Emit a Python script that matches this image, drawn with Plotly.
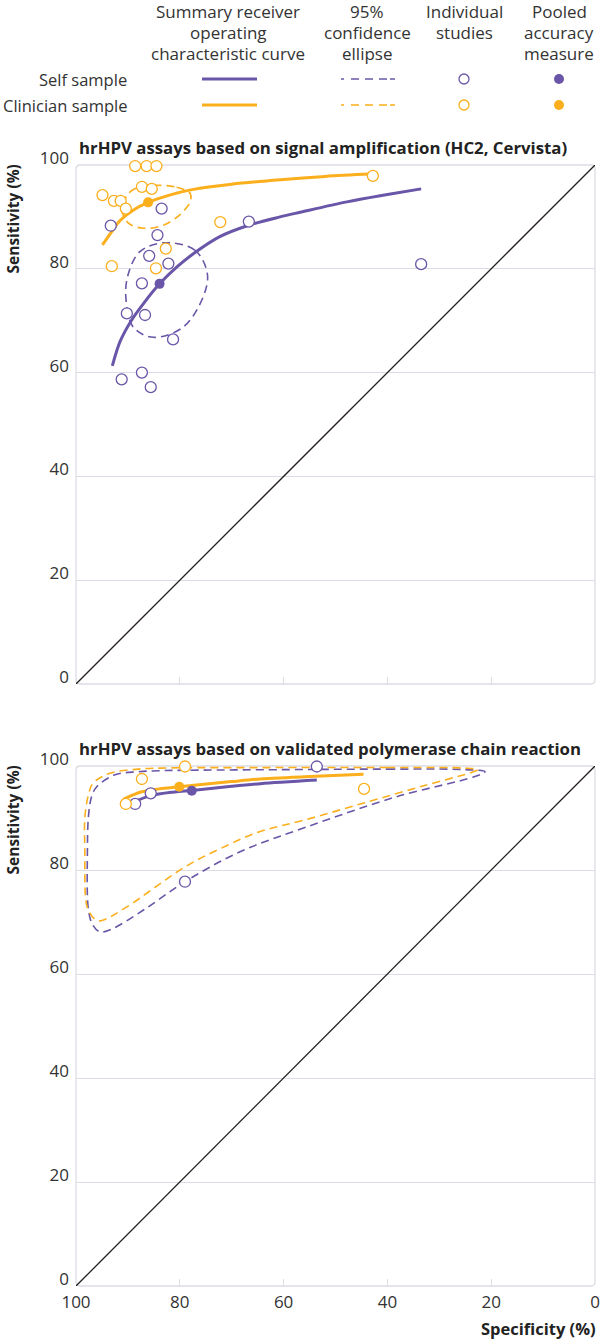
import plotly.graph_objects as go

W, H = 600, 1343
ML, MR = 76, 5
PURPLE = "#6A56A8"
ORANGE = "#FBAF1D"
GRID = "#DCDCE4"
TXT = "#333333"
FONT = "Open Sans"

# ---------- Panel A: signal amplification (HC2, Cervista) ----------
a_self_spec = [93.3, 83.5, 84.3, 85.9, 82.2, 87.3, 90.2, 86.7, 81.3, 91.2, 87.3, 85.6, 66.7, 33.5]
a_self_sens = [88.3, 91.6, 86.5, 82.5, 81.0, 77.2, 71.4, 71.1, 66.4, 58.7, 60.0, 57.2, 89.1, 80.9]
a_clin_spec = [88.6, 86.4, 84.5, 87.3, 85.4, 94.9, 92.7, 91.4, 90.4, 93.1, 82.7, 84.6, 72.2, 42.8]
a_clin_sens = [99.8, 99.8, 99.8, 95.8, 95.4, 94.2, 93.1, 93.1, 91.6, 80.5, 83.9, 80.1, 89.0, 97.9]
a_self_pool = (83.9, 77.1)
a_clin_pool = (86.1, 92.8)
a_self_sroc_spec = [93.0, 91.5, 89.3, 87.0, 83.9, 80.5, 77.4, 72.3, 66.7, 60.7, 56.8, 47.8, 40.0, 33.5]
a_self_sroc_sens = [61.3, 66.0, 70.1, 73.3, 77.1, 80.4, 82.9, 86.2, 88.4, 90.0, 90.9, 92.9, 94.3, 95.4]
a_clin_sroc_spec = [94.9, 93.0, 91.5, 89.0, 86.1, 82.0, 77.4, 70.0, 60.0, 52.0, 43.0]
a_clin_sroc_sens = [84.6, 87.3, 89.3, 91.3, 92.8, 94.2, 95.3, 96.3, 97.2, 97.8, 98.3]
a_self_ell_spec = [83.2, 77.1, 74.7, 75.5, 79.3, 85.1, 89.0, 90.4, 89.9, 87.7, 83.2]
a_self_ell_sens = [85.0, 83.6, 79.1, 74.6, 68.8, 66.8, 68.8, 74.6, 79.1, 83.3, 85.0]
a_clin_ell_spec = [84.5, 80.6, 78.0, 78.0, 80.0, 83.2, 87.0, 89.9, 91.1, 89.9, 87.7, 84.5]
a_clin_ell_sens = [96.1, 95.7, 94.5, 92.9, 90.4, 88.4, 87.8, 88.8, 91.3, 94.5, 95.8, 96.1]

# ---------- Panel B: validated PCR ----------
b_self_spec = [85.6, 88.6, 79.0, 53.6]
b_self_sens = [94.75, 92.7, 77.75, 99.9]
b_clin_spec = [79.0, 87.3, 90.4, 44.5]
b_clin_sens = [99.9, 97.5, 92.7, 95.6]
b_self_pool = (77.7, 95.25)
b_clin_pool = (80.1, 96.0)
b_self_sroc_spec = [89.3, 85.6, 81.0, 77.7, 70.0, 64.5, 53.6]
b_self_sroc_sens = [92.9, 94.3, 95.0, 95.3, 96.1, 96.6, 97.3]
b_clin_sroc_spec = [90.9, 87.5, 84.0, 80.1, 70.0, 64.5, 55.0, 44.6]
b_clin_sroc_sens = [93.6, 95.0, 95.6, 96.0, 97.0, 97.5, 98.0, 98.4]
b_self_ell_spec = [60.0, 40.0, 25.0, 21.2, 23.4, 38.2, 55.5, 68.4, 79.0, 87.0, 93.4, 95.4, 96.8, 97.6, 97.8, 97.6, 97.0, 96.0, 92.5, 88.0, 83.8, 60.0]
b_self_ell_sens = [99.3, 99.4, 99.3, 98.9, 97.9, 94.1, 88.3, 83.5, 77.75, 72.3, 68.5, 68.1, 69.5, 72.3, 83.8, 90.3, 94.1, 96.0, 98.3, 98.9, 99.1, 99.3]
b_clin_ell_spec = [60.0, 40.0, 25.0, 22.6, 23.4, 33.0, 44.5, 56.0, 64.5, 72.0, 79.0, 90.2, 94.7, 96.0, 97.5, 98.1, 98.3, 98.3, 97.6, 96.7, 93.5, 88.0, 83.8, 60.0]
b_clin_ell_sens = [99.7, 99.7, 99.6, 99.3, 98.9, 96.2, 92.9, 89.6, 87.4, 84.2, 80.6, 72.9, 70.4, 70.3, 72.0, 74.2, 83.8, 90.0, 94.5, 96.7, 98.6, 99.4, 99.6, 99.7]

diag = [0, 100]
tick_vals = [0, 20, 40, 60, 80, 100]
tick_text = ["0", "20", "40", "60", "80", "100"]

# layout geometry (pixels from top)
A_TOP, A_BOT = 165, 684
B_TOP, B_BOT = 766, 1286


def py2p(py):
    return 1 - py / H


def px2p(px):
    return (px - ML) / (W - ML - MR)


fig = go.Figure()


def add_panel(xa, ya, ell, sroc, studies, pools):
    for (sx, sy), col in zip(ell, [PURPLE, ORANGE]):
        fig.add_trace(go.Scatter(x=sx, y=sy, mode="lines", xaxis=xa, yaxis=ya,
                                 line=dict(color=col, width=1.6, dash="8px,5px", shape="spline", smoothing=1.0),
                                 hoverinfo="skip", showlegend=False))
    fig.add_trace(go.Scatter(x=[100 - d for d in diag], y=diag, mode="lines", xaxis=xa, yaxis=ya,
                             line=dict(color="#231F20", width=1.3), hoverinfo="skip", showlegend=False))
    for (sx, sy), col in zip(sroc, [PURPLE, ORANGE]):
        fig.add_trace(go.Scatter(x=sx, y=sy, mode="lines", xaxis=xa, yaxis=ya,
                                 line=dict(color=col, width=3, shape="spline", smoothing=0.9),
                                 hoverinfo="skip", showlegend=False))
    for (sx, sy), col in zip(studies, [PURPLE, ORANGE]):
        fig.add_trace(go.Scatter(x=sx, y=sy, mode="markers", xaxis=xa, yaxis=ya, cliponaxis=False,
                                 marker=dict(symbol="circle", size=11, color="white",
                                             line=dict(color=col, width=1.3)),
                                 showlegend=False))
    for (px_, py_), col in zip(pools, [PURPLE, ORANGE]):
        fig.add_trace(go.Scatter(x=[px_], y=[py_], mode="markers", xaxis=xa, yaxis=ya, cliponaxis=False,
                                 marker=dict(symbol="circle", size=10, color=col, line=dict(width=0)),
                                 showlegend=False))


add_panel("x", "y",
          [(a_self_ell_spec, a_self_ell_sens), (a_clin_ell_spec, a_clin_ell_sens)],
          [(a_self_sroc_spec, a_self_sroc_sens), (a_clin_sroc_spec, a_clin_sroc_sens)],
          [(a_self_spec, a_self_sens), (a_clin_spec, a_clin_sens)],
          [a_self_pool, a_clin_pool])
add_panel("x2", "y2",
          [(b_self_ell_spec, b_self_ell_sens), (b_clin_ell_spec, b_clin_ell_sens)],
          [(b_self_sroc_spec, b_self_sroc_sens), (b_clin_sroc_spec, b_clin_sroc_sens)],
          [(b_self_spec, b_self_sens), (b_clin_spec, b_clin_sens)],
          [b_self_pool, b_clin_pool])

xcommon = dict(range=[100, 0], showgrid=False, zeroline=False, showline=False, automargin=False,
               tickvals=tick_vals, ticktext=tick_text, ticks="inside", ticklen=7,
               tickcolor=GRID, tickwidth=1.2,
               tickfont=dict(family=FONT, size=17, color=TXT), fixedrange=True)
ycommon = dict(range=[0, 100], showgrid=True, gridcolor=GRID, gridwidth=1.2, zeroline=False,
               showline=False, tickvals=tick_vals, ticktext=tick_text, ticks="", automargin=False,
               ticklabelstandoff=6, ticklabelshift=-7,
               tickfont=dict(family=FONT, size=17, color=TXT), fixedrange=True)

fig.update_layout(
    width=W, height=H,
    margin=dict(l=ML, r=MR, t=0, b=0, autoexpand=False),
    plot_bgcolor="white", paper_bgcolor="white",
    showlegend=False,
    xaxis=dict(domain=[0, 1], anchor="y", showticklabels=False, **xcommon),
    yaxis=dict(domain=[py2p(A_BOT), py2p(A_TOP)], anchor="x", **ycommon),
    xaxis2=dict(domain=[0, 1], anchor="y2", showticklabels=True, ticklabelstandoff=4, **xcommon),
    yaxis2=dict(domain=[py2p(B_BOT), py2p(B_TOP)], anchor="x2", **ycommon),
)

r = 0.008
for xa, ya in [("x", "y"), ("x2", "y2")]:
    rx, ry = r, r * (W - ML - MR) / (A_BOT - A_TOP)
    path = (f"M {rx},0 L {1-rx},0 Q 1,0 1,{ry} L 1,{1-ry} Q 1,1 {1-rx},1 "
            f"L {rx},1 Q 0,1 0,{1-ry} L 0,{ry} Q 0,0 {rx},0 Z")
    fig.add_shape(type="path", path=path, xref=f"{xa} domain", yref=f"{ya} domain",
                  line=dict(color=GRID, width=1.3), layer="below")

annots = []
for t, y in [("<b>hrHPV assays based on signal amplification (HC2, Cervista)</b>", 148),
             ("<b>hrHPV assays based on validated polymerase chain reaction</b>", 748)]:
    annots.append(dict(text=t, x=px2p(77), y=py2p(y), xanchor="left", yanchor="middle",
                       xref="paper", yref="paper", showarrow=False,
                       font=dict(family=FONT, size=16.8, color="#222222")))

for top in [A_TOP, B_TOP]:
    annots.append(dict(text="<b>Sensitivity (%)</b>", textangle=-90, x=px2p(12), y=py2p(top - 2),
                       xanchor="center", yanchor="top", xref="paper", yref="paper", showarrow=False,
                       font=dict(family=FONT, size=15.5, color="#222222")))
annots.append(dict(text="<b>Specificity (%)</b>", x=px2p(598), y=py2p(1328), xanchor="right",
                   yanchor="middle", xref="paper", yref="paper", showarrow=False,
                   font=dict(family=FONT, size=16.5, color="#222222")))

headers = [
    (228, ["Summary receiver", "operating", "characteristic curve"]),
    (367, ["95%", "confidence", "ellipse"]),
    (464, ["Individual", "studies"]),
    (559, ["Pooled", "accuracy", "measure"]),
]
for cx, lines in headers:
    for i, t in enumerate(lines):
        annots.append(dict(text=t, x=px2p(cx), y=py2p(12 + 20.5 * i), xanchor="center", yanchor="middle",
                           xref="paper", yref="paper", showarrow=False,
                           font=dict(family=FONT, size=17, color=TXT)))
rows = [("Self sample", 79, PURPLE), ("Clinician sample", 105, ORANGE)]
for label, ry_, col in rows:
    annots.append(dict(text=label, x=px2p(129), y=py2p(ry_), xanchor="right", yanchor="middle",
                       xref="paper", yref="paper", showarrow=False,
                       font=dict(family=FONT, size=16.5, color=TXT)))
    fig.add_shape(type="line", xref="paper", yref="paper", x0=px2p(202), x1=px2p(257),
                  y0=py2p(ry_), y1=py2p(ry_), line=dict(color=col, width=3))
    fig.add_shape(type="line", xref="paper", yref="paper", x0=px2p(341), x1=px2p(395),
                  y0=py2p(ry_), y1=py2p(ry_), line=dict(color=col, width=1.6, dash="3px,7px,8px,6px,8px,6px,8px"))
    fig.add_shape(type="circle", xref="paper", yref="paper", xsizemode="pixel", ysizemode="pixel",
                  xanchor=px2p(464), yanchor=py2p(ry_), x0=-5, x1=5, y0=-5, y1=5,
                  line=dict(color=col, width=1.3), fillcolor="white")
    fig.add_shape(type="circle", xref="paper", yref="paper", xsizemode="pixel", ysizemode="pixel",
                  xanchor=px2p(559), yanchor=py2p(ry_), x0=-5, x1=5, y0=-5, y1=5,
                  line=dict(color=col, width=0), fillcolor=col)

fig.update_layout(annotations=annots)
fig.write_html("out.html", config={"displayModeBar": False},
               post_script="document.body.style.margin='0';document.body.style.padding='0';"
                           "document.body.style.overflow='hidden';")
